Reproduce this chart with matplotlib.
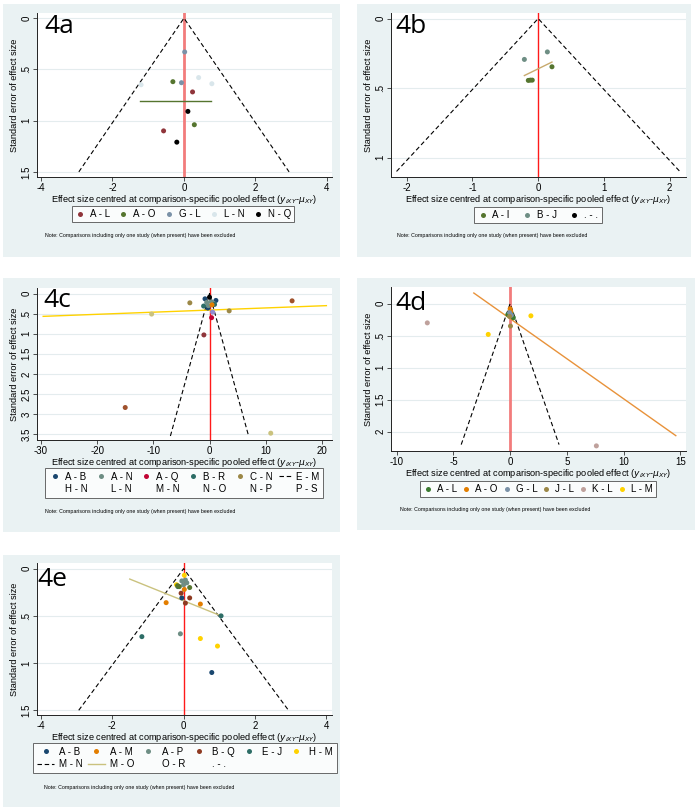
import matplotlib
matplotlib.use("Agg")
import matplotlib.pyplot as plt
from matplotlib.lines import Line2D
from matplotlib.patches import Rectangle

W, H = 698, 811
plt.rcParams["font.family"] = ["Liberation Sans", "DejaVu Sans"]

# Stata s2color style colours
NAVY = "#1a476f"
MAROON = "#90353b"
FOREST = "#55752f"
DKORANGE = "#e37e00"
TEAL = "#6e8e84"
CRANBERRY = "#c10534"
LAVENDER = "#938dd2"
KHAKI = "#cac27e"
SIENNA = "#a0522d"
EMIDBLUE = "#7b92a8"
EMERALD = "#2d6d66"
BROWN = "#9c8847"
EROSE = "#bfa19c"
GOLD = "#ffd200"
BLUISHGRAY = "#d9e6eb"
BG = "#eaf2f3"

# ---- 4a ----
A_LABELS = ["A - L", "A - O", "G - L", "L - N", "N - Q"]
A_X = [[0.24, -0.57], [-0.31, 0.29], [0.02, -0.07], [-1.2, 0.41, 0.78], [0.11, -0.2]]
A_SE = [[0.72, 1.10], [0.62, 1.04], [0.33, 0.63], [0.65, 0.58, 0.64], [0.91, 1.21]]
A_LINE_X = [-1.24, 0.76]
A_LINE_SE = [0.805, 0.805]
A_FUNNEL_SE = 1.5

# ---- 4b ----
B_LABELS = ["A - I", "B - J", ". - ."]
B_X = [[0.21, -0.15, -0.12, -0.09], [-0.21, 0.14], []]
B_SE = [[0.347, 0.445, 0.443, 0.443], [0.294, 0.24], []]
B_LINE_X = [-0.21, 0.21]
B_LINE_SE = [0.41, 0.313]
B_FUNNEL_SE = 1.1

# ---- 4c ----
C_LABELS = ["A - B", "A - N", "A - Q", "B - R", "C - N", "E - M",
            "H - N", "L - N", "M - N", "N - O", "N - P", "P - S"]
C_X = [[-0.8, 1.14, -0.3], [-0.5, 0.3, 0.7, -0.2], [0.37], [-1.05, 0.9],
       [-3.5, 3.5]]
C_SE = [[0.13, 0.17, 0.36], [0.22, 0.2, 0.24, 0.3], [0.6], [0.31, 0.27],
        [0.23, 0.43]]
C_OTHER_X = [[14.7, -15.0], [-10.3, 10.9], [-1.0], [0.55], [0.45], [0.0]]
C_OTHER_SE = [[0.18, 2.84], [0.51, 3.48], [1.03], [0.46], [0.28], [0.09]]
C_LINE_X = [-29.6, 20.8]
C_LINE_SE = [0.567, 0.30]
C_FUNNEL_SE = 3.55

# ---- 4d ----
D_LABELS = ["A - L", "A - O", "G - L", "J - L", "K - L", "L - M"]
D_X = [[-0.2, 0.28, 0.1], [0.0, 0.05], [-0.05, 0.1], [0.03, -0.05],
       [-7.3, 7.6], [-1.93, 1.83]]
D_SE = [[0.17, 0.22, 0.15], [0.08, 0.12], [0.14, 0.18], [0.35, 0.2],
        [0.30, 2.22], [0.48, 0.19]]
D_LINE_X = [-3.2, 14.6]
D_LINE_SE = [-0.166, 2.06]
D_FUNNEL_SE = 2.2

# ---- 4e ----
E_LABELS = ["A - B", "A - M", "A - P", "B - Q", "E - J", "H - M",
            "M - N", "M - O", "O - R", ". - ."]
E_X = [[-0.05, 0.79], [-0.49, 0.47, 0.02], [-0.09, -0.05, 0.05, 0.0, 0.09],
       [-0.07, 0.17, 0.05], [1.05, -1.17, -0.16], [0.02, -0.2, 0.47, 0.95]]
E_SE = [[0.31, 1.10], [0.36, 0.375, 0.22], [0.69, 0.13, 0.12, 0.17, 0.15],
        [0.26, 0.31, 0.365], [0.5, 0.72, 0.19], [0.07, 0.17, 0.74, 0.82]]
E_OTHER_X = [-0.17, 0.17, -0.12]
E_OTHER_SE = [0.18, 0.2, 0.19]
E_LINE_X = [-1.51, 1.05]
E_LINE_SE = [0.11, 0.5]
E_FUNNEL_SE = 1.5

XLABEL = r"Effect size centred at comparison-specific pooled effect ($y_{iXY}$-$\mu_{XY}$)"
NOTE = "Note: Comparisons including only one study (when present) have been excluded"


def frac_box(l, t, r, b):
    return [l / W, 1 - b / H, (r - l) / W, (b - t) / H]


def fmt_tick(v):
    s = f"{v:g}"
    if s.startswith("0."):
        s = s[1:]
    return s


def make_panel(fig, tag, bg, plot, xlim, ylim, xticks, yticks, funnel_se,
               vline_color, vline_w, note_xy, tag_xy):
    fig.patches.append(Rectangle((bg[0] / W, 1 - bg[3] / H), (bg[2] - bg[0]) / W,
                                 (bg[3] - bg[1]) / H, transform=fig.transFigure,
                                 facecolor=BG, edgecolor="none", zorder=-5))
    ax = fig.add_axes(frac_box(*plot))
    ax.set_zorder(2)
    ax.set_facecolor("white")
    ax.set_xlim(*xlim)
    ax.set_ylim(ylim[1], ylim[0])
    ax.set_xticks(xticks)
    ax.set_yticks(yticks)
    ax.set_xticklabels([fmt_tick(v) for v in xticks])
    ax.set_yticklabels([fmt_tick(v) for v in yticks], rotation=90, va="center")
    ax.tick_params(labelsize=7, length=3, width=0.6, color="#333333", pad=1)
    for sp in ["top", "right"]:
        ax.spines[sp].set_visible(False)
    for sp in ["left", "bottom"]:
        ax.spines[sp].set_linewidth(0.7)
        ax.spines[sp].set_color("#222222")
    ax.grid(axis="y", color="#e4ecee", lw=0.8)
    ax.set_axisbelow(True)
    ax.set_xlabel(XLABEL, fontsize=6.6, labelpad=0)
    ax.set_ylabel("Standard error of effect size", fontsize=6.6, labelpad=2)
    ax.axvline(0, color=vline_color, lw=vline_w, zorder=1)
    fx = 1.96 * funnel_se
    ax.plot([-fx, 0, fx], [funnel_se, 0, funnel_se], color="black", lw=0.8,
            ls=(0, (4, 2.5)), zorder=2)
    fig.text(note_xy[0] / W, 1 - note_xy[1] / H, NOTE, fontsize=3.8,
             va="center", ha="left")
    ax.text(tag_xy[0], tag_xy[1], tag, fontsize=19, transform=ax.transAxes,
            family=["Open Sans", "DejaVu Sans"], va="center", ha="left", zorder=6)
    return ax


def dots(ax, xs, ses, color):
    ax.scatter(xs, ses, s=13, color=color, edgecolor="none", zorder=4)


def dot_handle(color, label):
    return Line2D([], [], ls="none", marker="o", ms=3.6, mfc=color, mec="none",
                  label=label)


def blank_handle(label):
    return Line2D([], [], ls="none", marker="none", label=label)


def panel_legend(fig, handles, center, ncol, colsp=1.6, hlen=1.0, tpad=0.5):
    leg = fig.legend(handles=handles, loc="center",
                     bbox_to_anchor=(center[0] / W, 1 - center[1] / H),
                     ncol=ncol, fontsize=7, frameon=True, fancybox=False,
                     handlelength=hlen, handletextpad=tpad, columnspacing=colsp,
                     borderpad=0.35, labelspacing=0.25)
    leg.get_frame().set_edgecolor("#444444")
    leg.get_frame().set_linewidth(0.7)
    return leg


fig = plt.figure(figsize=(W / 100, H / 100), dpi=100)

# 4a
ax = make_panel(fig, "4a", (3, 4, 340, 257), (37, 13, 332, 177), (-4.11, 4.14),
                (-0.05, 1.55), [-4, -2, 0, 2, 4], [0, 0.5, 1, 1.5], A_FUNNEL_SE,
                "#f27c7c", 2.0, (45, 236), (0.025, 0.92))
a_colors = [MAROON, FOREST, EMIDBLUE, BLUISHGRAY, "black"]
for xs, ses, c in zip(A_X, A_SE, a_colors):
    dots(ax, xs, ses, c)
ax.plot(A_LINE_X, A_LINE_SE, color=FOREST, lw=1.0, zorder=3)
panel_legend(fig, [dot_handle(c, l) for c, l in zip(a_colors, A_LABELS)],
             (183, 214), 5, colsp=0.9)

# 4b
ax = make_panel(fig, "4b", (357, 4, 691, 257), (391, 13, 686, 177), (-2.24, 2.25),
                (-0.04, 1.14), [-2, -1, 0, 1, 2], [0, 0.5, 1], B_FUNNEL_SE,
                "#ff1a1a", 1.0, (397, 236), (0.015, 0.92))
b_colors = [FOREST, TEAL, "black"]
for xs, ses, c in zip(B_X, B_SE, b_colors):
    dots(ax, xs, ses, c)
ax.plot(B_LINE_X, B_LINE_SE, color="#c8aa6e", lw=1.0, zorder=3)
panel_legend(fig, [dot_handle(c, l) for c, l in zip(b_colors, B_LABELS)],
             (538, 215), 3, colsp=1.3)

# 4c
ax = make_panel(fig, "4c", (3, 278, 340, 532), (37, 288, 332, 440), (-30.7, 21.8),
                (-0.14, 3.65), [-30, -20, -10, 0, 10, 20],
                [0, 0.5, 1, 1.5, 2, 2.5, 3, 3.5], C_FUNNEL_SE,
                "#ff1a1a", 1.0, (45, 511), (0.02, 0.92))
c_colors = [NAVY, TEAL, CRANBERRY, EMERALD, BROWN]
c_other_colors = [SIENNA, KHAKI, MAROON, LAVENDER, DKORANGE, "black"]
ax.plot(C_LINE_X, C_LINE_SE, color=GOLD, lw=1.0, zorder=3)
for xs, ses, c in zip(C_X, C_SE, c_colors):
    dots(ax, xs, ses, c)
for xs, ses, c in zip(C_OTHER_X, C_OTHER_SE, c_other_colors):
    dots(ax, xs, ses, c)
c_handles = [dot_handle(c, l) for c, l in zip(c_colors, C_LABELS[:5])]
c_handles.append(Line2D([], [], color="black", lw=0.8, ls=(0, (4, 2.5)),
                        label=C_LABELS[5]))
c_row2 = [blank_handle(l) for l in C_LABELS[6:]]
c_order = [h for pair in zip(c_handles, c_row2) for h in pair]
panel_legend(fig, c_order, (184, 483), 6, colsp=0.7, hlen=1.3, tpad=0.4)

# 4d
ax = make_panel(fig, "4d", (357, 278, 695, 530), (391, 287, 686, 451), (-10.5, 15.5),
                (-0.26, 2.30), [-10, -5, 0, 5, 10, 15], [0, 0.5, 1, 1.5, 2],
                D_FUNNEL_SE, "#f27c7c", 2.0, (400, 509), (0.015, 0.9))
d_colors = ["#3b7a30", DKORANGE, EMIDBLUE, BROWN, EROSE, GOLD]
ax.plot(D_LINE_X, D_LINE_SE, color="#e8923a", lw=1.0, zorder=3)
for xs, ses, c in zip(D_X, D_SE, d_colors):
    dots(ax, xs, ses, c)
panel_legend(fig, [dot_handle(c, l) for c, l in zip(d_colors, D_LABELS)],
             (538, 489), 6, colsp=0.45, tpad=0.4)

# 4e
ax = make_panel(fig, "4e", (3, 555, 340, 807), (37, 563, 332, 715), (-4.11, 4.16),
                (-0.06, 1.55), [-4, -2, 0, 2, 4], [0, 0.5, 1, 1.5], E_FUNNEL_SE,
                "#ff1a1a", 1.0, (44, 787), (0.0, 0.89))
e_colors = [NAVY, DKORANGE, TEAL, "#8e3a22", EMERALD, GOLD]
ax.plot(E_LINE_X, E_LINE_SE, color=KHAKI, lw=1.0, zorder=3)
for xs, ses, c in zip(E_X, E_SE, e_colors):
    dots(ax, xs, ses, c)
dots(ax, E_OTHER_X, E_OTHER_SE, FOREST)
e_row1 = [dot_handle(c, l) for c, l in zip(e_colors, E_LABELS[:6])]
e_row2 = [Line2D([], [], color="black", lw=0.8, ls=(0, (4, 2.5)), label=E_LABELS[6]),
          Line2D([], [], color=KHAKI, lw=1.0, label=E_LABELS[7]),
          blank_handle(E_LABELS[8]), blank_handle(E_LABELS[9])]
e_order = [e_row1[0], e_row2[0], e_row1[1], e_row2[1], e_row1[2], e_row2[2],
           e_row1[3], e_row2[3], e_row1[4], e_row1[5]]
panel_legend(fig, e_order, (185, 758), 6, colsp=0.5, hlen=1.8)

fig.savefig("out.png", dpi=100, facecolor="white")
